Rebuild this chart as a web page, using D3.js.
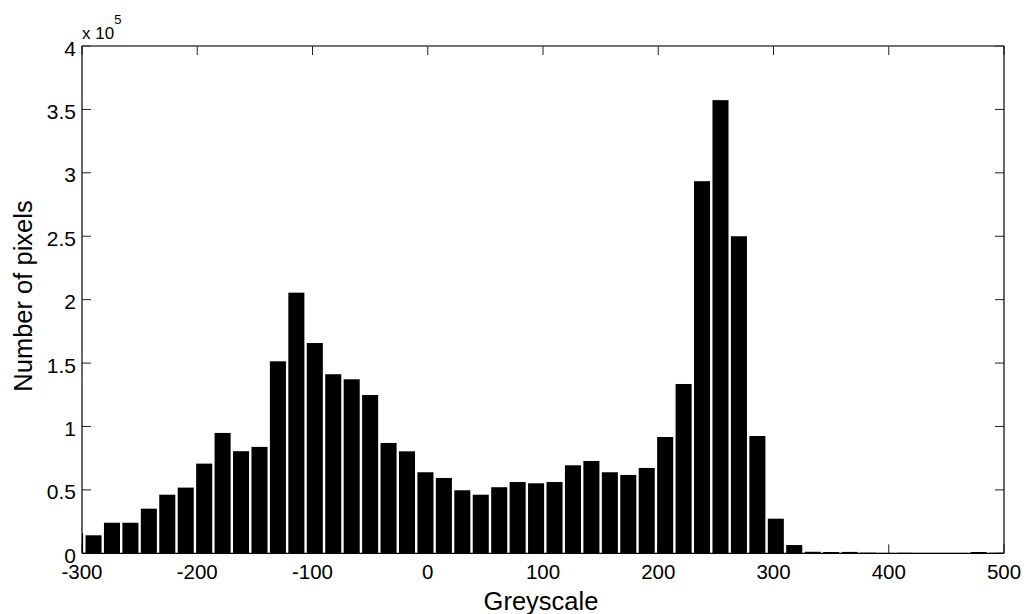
<!DOCTYPE html>
<html>
<head>
<meta charset="utf-8">
<script src="https://cdn.jsdelivr.net/npm/d3@7"></script>
<style>
  html, body { margin: 0; padding: 0; background: #fff; }
  svg { display: block; font-family: "Liberation Sans", Arial, sans-serif; }
</style>
</head>
<body>
<svg id="chart" width="1028" height="614"></svg>
<script>
// Histogram bin centres (greyscale value) and pixel counts per bin
const binCenters = [-306, -290, -274, -258, -242, -226, -210, -194, -178, -162, -146,
  -130, -114, -98, -82, -66, -50, -34, -18, -2, 14, 30, 46, 62, 78, 94, 110, 126,
  142, 158, 174, 190, 206, 222, 238, 254, 270, 286, 302, 318, 334, 350, 366, 382,
  398, 414, 430, 446, 462, 478, 494];
const pixelCounts = [15800, 14200, 24100, 24100, 35200, 46200, 51800, 70700, 94900,
  80500, 83900, 151400, 205500, 165800, 141200, 137200, 124800, 87000, 80400, 63900,
  59400, 49700, 46200, 52100, 56200, 55200, 56200, 69400, 72800, 63900, 61800, 67300,
  91700, 133500, 293400, 357300, 250000, 92500, 27300, 6500, 1200, 1000, 1100, 500,
  300, 400, 300, 300, 300, 1000, 400];
const binWidth = 16;

// Axis ticks
const xTicks = [-300, -200, -100, 0, 100, 200, 300, 400, 500];
const yTicks = [0, 0.5, 1, 1.5, 2, 2.5, 3, 3.5, 4];   // in units of 10^5
const yTickLabels = ["0", "0.5", "1", "1.5", "2", "2.5", "3", "3.5", "4"];

const svg = d3.select("#chart");
const plotL = 82, plotR = 1004, plotT = 46, plotB = 553.3;

const x = d3.scaleLinear().domain([-300, 500]).range([plotL, plotR]);
const y = d3.scaleLinear().domain([0, 4]).range([plotB, plotT]);

svg.append("defs").append("clipPath").attr("id", "plotClip")
  .append("rect").attr("x", plotL).attr("y", plotT)
  .attr("width", plotR - plotL).attr("height", plotB - plotT);

const tickLen = 9;
const tickColor = "#222";

// Inward ticks on all four sides
const axes = svg.append("g");
axes.selectAll("line.xb").data(xTicks).join("line")
  .attr("x1", d => x(d)).attr("x2", d => x(d))
  .attr("y1", plotB).attr("y2", plotB - tickLen)
  .attr("stroke", tickColor).attr("stroke-width", 1);
axes.selectAll("line.xt").data(xTicks).join("line")
  .attr("x1", d => x(d)).attr("x2", d => x(d))
  .attr("y1", plotT).attr("y2", plotT + tickLen)
  .attr("stroke", tickColor).attr("stroke-width", 1);
axes.selectAll("line.yl").data(yTicks).join("line")
  .attr("x1", plotL).attr("x2", plotL + tickLen)
  .attr("y1", d => y(d)).attr("y2", d => y(d))
  .attr("stroke", tickColor).attr("stroke-width", 1);
axes.selectAll("line.yr").data(yTicks).join("line")
  .attr("x1", plotR).attr("x2", plotR - tickLen)
  .attr("y1", d => y(d)).attr("y2", d => y(d))
  .attr("stroke", tickColor).attr("stroke-width", 1);

// Bars
const barFrac = 0.87;
svg.append("g").attr("clip-path", "url(#plotClip)")
  .selectAll("rect").data(binCenters).join("rect")
  .attr("x", (d) => x(d - binWidth * barFrac / 2))
  .attr("width", (d) => x(d + binWidth * barFrac / 2) - x(d - binWidth * barFrac / 2))
  .attr("y", (d, i) => y(pixelCounts[i] / 1e5))
  .attr("height", (d, i) => plotB - y(pixelCounts[i] / 1e5))
  .attr("fill", "#000");

// Frame
svg.append("line").attr("x1", plotL).attr("x2", plotR).attr("y1", plotT).attr("y2", plotT)
  .attr("stroke", "#444").attr("stroke-width", 1.3);
svg.append("line").attr("x1", plotL).attr("x2", plotR).attr("y1", plotB).attr("y2", plotB)
  .attr("stroke", "#000").attr("stroke-width", 1.2);
svg.append("line").attr("x1", plotL).attr("x2", plotL).attr("y1", plotT).attr("y2", plotB)
  .attr("stroke", "#000").attr("stroke-width", 1.2);
svg.append("line").attr("x1", plotR).attr("x2", plotR).attr("y1", plotT).attr("y2", plotB)
  .attr("stroke", "#000").attr("stroke-width", 1.2);

// Tick labels
svg.append("g").selectAll("text").data(xTicks).join("text")
  .attr("x", d => x(d)).attr("y", 579)
  .attr("text-anchor", "middle").attr("font-size", 20.5).attr("fill", "#000")
  .text(d => String(d));
svg.append("g").selectAll("text").data(yTicks).join("text")
  .attr("x", 76).attr("y", d => y(d) + 9.5)
  .attr("text-anchor", "end").attr("font-size", 21).attr("fill", "#000")
  .text((d, i) => yTickLabels[i]);

// Exponent label
const expo = svg.append("text").attr("x", 82).attr("y", 38.5)
  .attr("font-size", 17).attr("fill", "#000");
expo.append("tspan").text("x 10");
expo.append("tspan").attr("dy", -15).attr("font-size", 13).text("5");

// Axis titles
svg.append("text").attr("x", 541).attr("y", 610)
  .attr("text-anchor", "middle").attr("font-size", 25.5).attr("fill", "#000")
  .text("Greyscale");
svg.append("text")
  .attr("transform", "translate(31.5,296) rotate(-90)")
  .attr("text-anchor", "middle").attr("font-size", 25.5).attr("fill", "#000")
  .text("Number of pixels");
</script>
</body>
</html>
